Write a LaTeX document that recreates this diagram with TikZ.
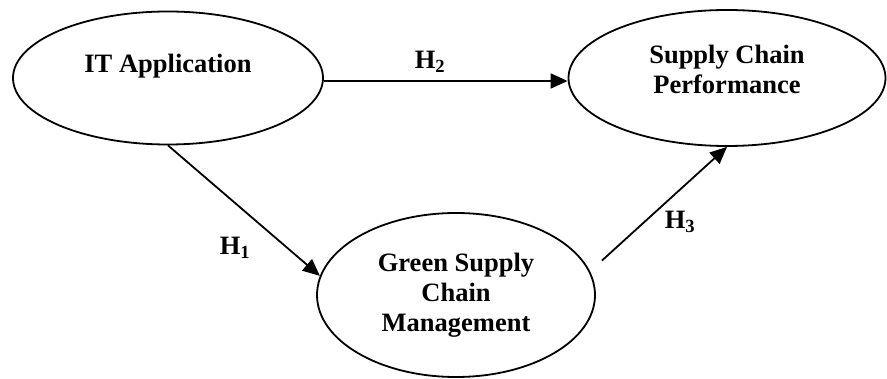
\documentclass[tikz,border=0pt]{standalone}
\usepackage{fontspec}
\setmainfont{Liberation Serif}
\usetikzlibrary{arrows.meta,shapes.geometric}
\tikzset{>={Triangle[length=17pt,width=15pt]}, % filled triangle tips
  construct/.style={draw, ellipse, line width=1.8pt, inner sep=0pt,
    align=center, font={\bfseries\fontsize{26.5}{30}\selectfont}},
  link/.style={->, line width=1.8pt},
  hyp/.style={font={\bfseries\fontsize{26.5}{30}\selectfont}},
}

\begin{document}
\begin{tikzpicture}[x=1pt, y=-1pt]

    \useasboundingbox (0,0) rectangle (887,379);

    \node [construct, minimum width=310pt, minimum height=133pt]
    (it) at (168,78) {IT Application\\~};
    \node [construct, minimum width=317pt, minimum height=136pt,
    text depth=18pt] (scp) at (727,78) {Supply Chain\\Performance};
    \node [construct, minimum width=278pt, minimum height=164pt]
    (gscm) at (456,295) {Green Supply\\Chain\\Management};

    \draw [link] ([yshift=-3pt]it.east) -- ([yshift=-3pt]scp.west);
    \draw [link] (it.south) -- (gscm.172);
    \draw [link, shorten <=16pt] (gscm.10) -- (scp.south);

    \node [hyp] (h1) at (235,248) {H\textsubscript{1}};
    \node [hyp] (h2) at (430,62) {H\textsubscript{2}};
    \node [hyp] (h3) at (680,222) {H\textsubscript{3}};

\end{tikzpicture}
\end{document}
